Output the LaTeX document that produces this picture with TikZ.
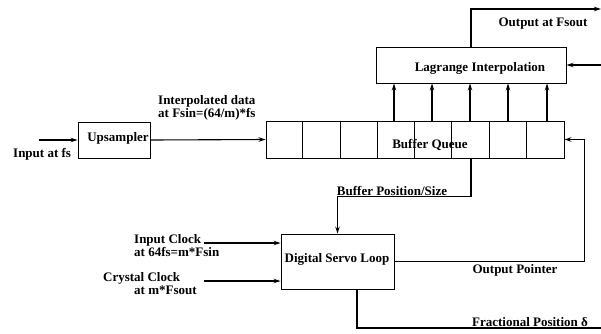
\documentclass[tikz,border=0pt]{standalone}
\usepackage{fontspec}
\setmainfont{Liberation Serif}
\usetikzlibrary{arrows.meta}
\begin{document}
\begin{tikzpicture}[x=1pt,y=-1pt,
  font=\bfseries\fontsize{13}{13}\selectfont,
  box/.style={draw, line width=0.9pt, inner sep=0pt},
  ln/.style={line width=1.1pt},
  arr/.style={ln, -{Stealth[length=7pt,width=4.5pt]}},
  lbl/.style={inner sep=0pt, align=left}]
\useasboundingbox (0,0) rectangle (601,333);
% boxes
\node[box, minimum width=72pt, minimum height=36pt] (up) at (114,140) {};
\node[lbl] (uptext) at (118,138) {Upsampler};
\node[box, minimum width=298pt, minimum height=37pt] (buf) at (415,139.5) {};
\foreach \i in {1,...,7}
  \draw[line width=0.7pt] ([xshift=\i*37.25pt]buf.north west) -- ([xshift=\i*37.25pt]buf.south west);
\node[lbl] (buftext) at (430,145) {Buffer Queue};
\node[box, minimum width=190pt, minimum height=36pt] (lag) at (471,65) {};
\node[lbl] (lagtext) at (480,68) {Lagrange Interpolation};
\node[box, minimum width=113pt, minimum height=55pt] (servo) at (337.5,261.5) {};
\node[lbl] (servotext) at (337,259) {Digital Servo Loop};
% free ends
\coordinate (in) at (39,140);
\coordinate (out) at (601,9);
\coordinate (din) at (601,65);
\coordinate (ic) at (204,243);
\coordinate (cc) at (204,281);
\coordinate (frend) at (601,328);
% connectors
\draw[arr] (in) -- (up.west);
\draw[arr] (up.east) -- (buf.west);
\foreach \x in {394,432,470,508,547}
  \draw[arr] (\x,0 |- buf.north) -- (\x,0 |- lag.south);
\draw[arr] (lag.north) |- (out);
\draw[arr] (din) -- (lag.east);
\draw[arr] (lag.south |- buf.south) -- ++(0,38) -| (servo.north);
\draw[arr] (servo.east) -- ++(190,0) |- (buf.east);
\draw[ln] ([xshift=19.5pt]servo.south) |- (frend);
\draw[arr] (ic) -- (ic -| servo.west);
\draw[arr] (cc) -- (cc -| servo.west);
% labels
\node[lbl, anchor=west] (linput) at (13,154) {Input at fs};
\node[lbl, anchor=west] (linterp) at (158,107.5) {Interpolated data\\at Fsin=(64/m)*fs};
\node[lbl] (lout) at (543,24) {Output at Fsout};
\node[lbl] (lbps) at (392,191) {Buffer Position/Size};
\node[lbl] (lop) at (515,270) {Output Pointer};
\node[lbl] (lfrac) at (530,322) {Fractional Position δ};
\node[lbl, anchor=west] (lic) at (134,245.5) {Input Clock\\at 64fs=m*Fsin};
\node[lbl, anchor=west] (lcc1) at (103,278) {Crystal Clock};
\node[lbl, anchor=west] (lcc2) at (134,290) {at m*Fsout};
\end{tikzpicture}
\end{document}
